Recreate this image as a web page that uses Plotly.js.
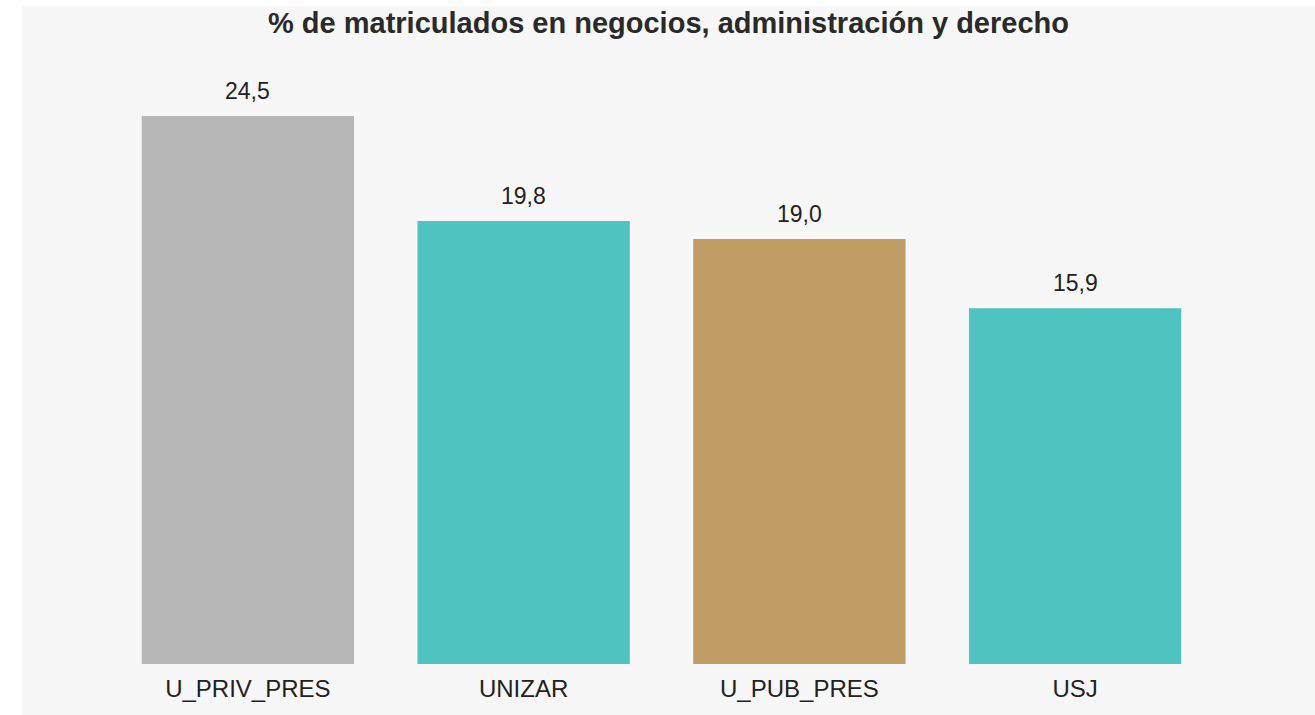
<!DOCTYPE html>
<html>
<head>
<meta charset="utf-8">
<script src="https://cdn.plot.ly/plotly-3.0.1.min.js"></script>
<style>
html,body{margin:0;padding:0;background:#ffffff;overflow:hidden;}
#chart{position:absolute;left:22px;top:6px;width:1293px;height:709px;}
</style>
</head>
<body>
<div id="chart"></div>
<script>
const categories = ["U_PRIV_PRES", "UNIZAR", "U_PUB_PRES", "USJ"];
const values = [24.5, 19.8, 19.0, 15.9];
const barColors = ["#b7b7b7", "#4fc3bf", "#bf9d64", "#4fc3bf"];
const titleText = "% de matriculados en negocios, administración y derecho";

const fmt = v => v.toFixed(1).replace(".", ",");

const trace = {
  type: "bar",
  x: categories,
  y: values,
  marker: {color: barColors},
  hoverinfo: "none"
};

const annotations = categories.map((c, i) => ({
  x: c, y: values[i], xref: "x", yref: "y",
  text: fmt(values[i]),
  showarrow: false,
  yanchor: "bottom",
  yshift: 10,
  font: {family: "Liberation Sans, Arial, sans-serif", size: 23, color: "#222222"}
}));

const layout = {
  width: 1293, height: 709,
  paper_bgcolor: "#f7f7f7",
  plot_bgcolor: "#f7f7f7",
  margin: {l: 88, r: 102, t: 60, b: 51},
  bargap: 0.23,
  showlegend: false,
  title: {
    text: "<b>" + titleText + "</b>",
    x: 0.5, xanchor: "center",
    yref: "container", y: 0.99, yanchor: "top", pad: {t: 0},
    font: {family: "Liberation Sans, Arial, sans-serif", size: 29, color: "#2a2a2a"}
  },
  xaxis: {
    showgrid: false, zeroline: false, showline: false,
    ticks: "",
    ticklabelstandoff: 8,
    tickfont: {family: "Liberation Sans, Arial, sans-serif", size: 24, color: "#222222"}
  },
  yaxis: {
    range: [0, 26.73],
    showgrid: false, zeroline: false, showline: false,
    showticklabels: false, ticks: ""
  },
  annotations: annotations
};

Plotly.newPlot("chart", [trace], layout, {displayModeBar: false, staticPlot: true});
</script>
</body>
</html>
